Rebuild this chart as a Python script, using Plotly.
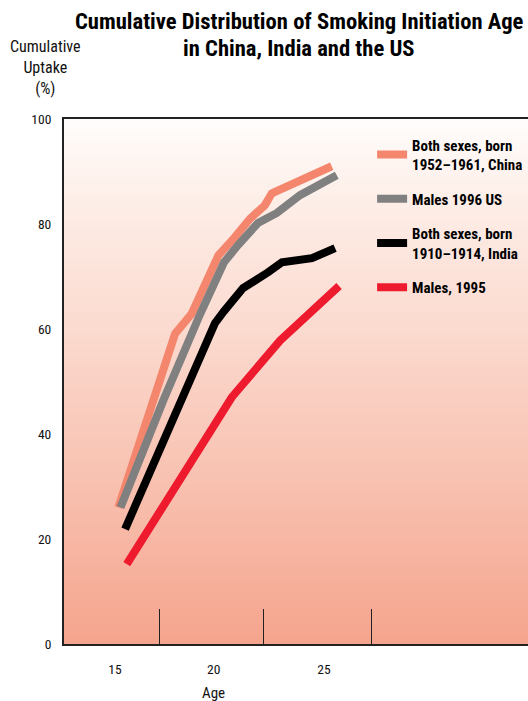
import numpy as np
import plotly.graph_objects as go

# ---- data ----
age_china = [15.16, 17.86, 18.65, 19.37, 19.92, 20.71, 21.43, 22.14, 22.46, 22.62, 24.13, 25.32]
uptake_china = [26.0, 59.1, 62.9, 69.3, 74.0, 77.5, 81.0, 83.6, 85.8, 86.1, 89.0, 91.0]

age_us = [15.26, 17.30, 19.05, 19.68, 20.19, 20.86, 21.81, 22.71, 23.81, 25.56]
uptake_us = [26.0, 46.4, 62.8, 67.9, 72.7, 76.0, 80.2, 82.1, 85.5, 89.3]

age_india = [15.48, 19.76, 20.19, 21.10, 22.29, 22.95, 24.38, 25.48]
uptake_india = [21.9, 61.1, 63.4, 67.8, 70.8, 72.7, 73.5, 75.4]

age_males95 = [15.56, 20.56, 22.86, 25.67]
uptake_males95 = [15.2, 47.0, 57.8, 68.2]

series_names = ["Both sexes, born<br>1952\u20131961, China", "Males 1996 US",
                "Both sexes, born<br>1910\u20131914, India", "Males, 1995"]
series_colors = ["#f4866d", "#808080", "#000000", "#ee1b2e"]

x_tick_vals = [15, 19.70, 24.95]
x_tick_text = ["15", "20", "25"]
x_divider_vals = [17.10, 22.08, 27.20]
y_tick_vals = [0, 20, 40, 60, 80, 100]

X_RANGE = [12.571, 34.667]
Y_RANGE = [0, 100]

COND = "Roboto Condensed, Liberation Sans Narrow, sans-serif"

fig = go.Figure()

# background gradient (white at top to salmon at bottom)
bands = np.linspace(0, 100, 106)
fig.add_trace(go.Heatmap(
    x=X_RANGE, y=bands, z=[[v, v] for v in bands],
    colorscale=[[0, "rgb(245,164,141)"], [0.3, "rgb(248,192,175)"],
                [0.6, "rgb(251,218,207)"], [0.85, "rgb(253,238,232)"],
                [1, "rgb(255,253,252)"]],
    showscale=False, hoverinfo="skip", zsmooth="best",
))

for xs, ys, name, col in [
    (age_china, uptake_china, series_names[0], series_colors[0]),
    (age_us, uptake_us, series_names[1], series_colors[1]),
    (age_india, uptake_india, series_names[2], series_colors[2]),
    (age_males95, uptake_males95, series_names[3], series_colors[3]),
]:
    fig.add_trace(go.Scatter(
        x=xs, y=ys, mode="lines", name=name, legendgroup=name,
        line=dict(color=col, width=8, shape="linear"),
    ))

fig.update_layout(
    width=528, height=701,
    margin=dict(l=64, r=0, t=119, b=57, autoexpand=False),
    paper_bgcolor="white", plot_bgcolor="white",
    font=dict(family=COND, size=14, color="#111"),
    showlegend=True,
    legend=dict(
        x=0.664, xanchor="left", y=0.982, yanchor="top",
        bgcolor="rgba(0,0,0,0)", borderwidth=0,
        font=dict(family=COND, size=15, color="#000", weight="bold"),
        tracegroupgap=12, valign="middle",
    ),
    xaxis=dict(
        range=X_RANGE, showgrid=False, zeroline=False,
        showline=True, linecolor="#222", linewidth=2, mirror=True,
        tickmode="array", tickvals=x_tick_vals, ticktext=x_tick_text,
        ticks="outside", ticklen=12, tickcolor="rgba(0,0,0,0)",
        tickfont=dict(size=13.5, family=COND, color="#111"),
        minor=dict(tickmode="array", tickvals=x_divider_vals, ticks="inside",
                   ticklen=35, tickcolor="#222", tickwidth=1, showgrid=False),
    ),
    yaxis=dict(
        range=Y_RANGE, showgrid=False, zeroline=False,
        showline=True, linecolor="#222", linewidth=2,
        tickmode="array", tickvals=y_tick_vals,
        ticks="outside", ticklen=8, tickcolor="rgba(0,0,0,0)",
        tickfont=dict(size=13.5, family=COND, color="#111"),
    ),
    annotations=[
        dict(text="<b>Cumulative Distribution of Smoking Initiation Age</b>", xref="paper", yref="paper",
             x=0.5065, y=1.1848, xanchor="center", yanchor="middle", showarrow=False,
             font=dict(family=COND, size=22.6, color="#000")),
        dict(text="<b>in China, India and the US</b>", xref="paper", yref="paper",
             x=0.5065, y=1.1352, xanchor="center", yanchor="middle", showarrow=False,
             font=dict(family=COND, size=22.6, color="#000")),
        dict(text="Cumulative<br>Uptake<br>(%)", xref="paper", yref="paper",
             x=-0.039, y=1.160, xanchor="center", yanchor="top", showarrow=False,
             font=dict(family=COND, size=16, color="#111")),
        dict(text="Age", xref="paper", yref="paper",
             x=0.323, y=-0.093, xanchor="center", yanchor="middle", showarrow=False,
             font=dict(family=COND, size=15, color="#111")),
    ],
)

fig.write_html("out.html", config={"displayModeBar": False},
               post_script="document.body.style.margin='0px';")
